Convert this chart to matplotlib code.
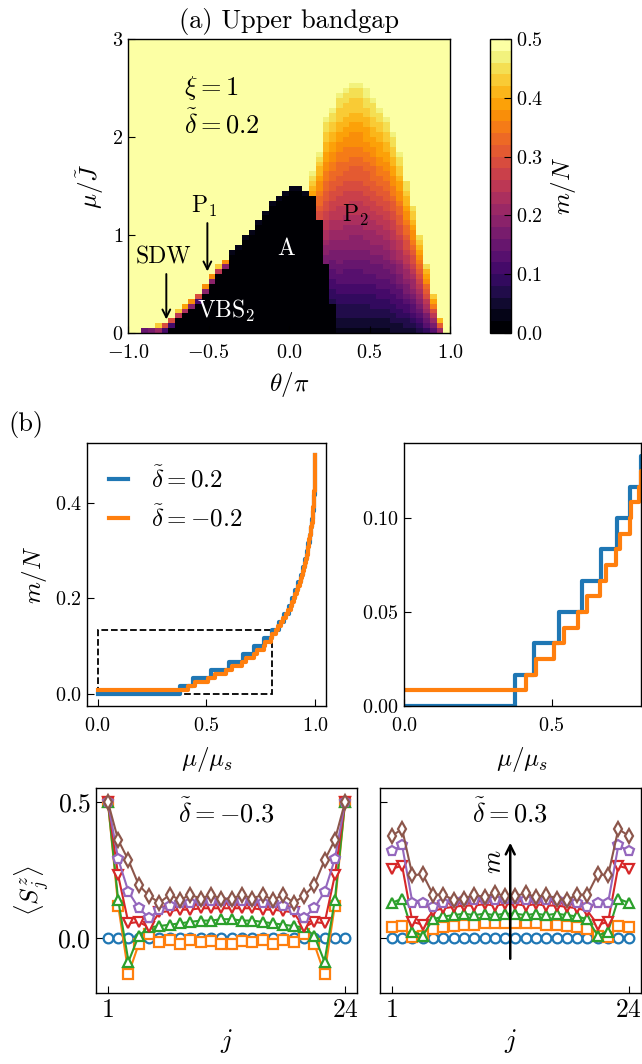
import numpy as np
import matplotlib.pyplot as plt
from matplotlib.patches import Rectangle

plt.rcParams.update({
    'font.family': 'serif',
    'font.serif': ['cmr10'],
    'mathtext.fontset': 'cm',
    'axes.formatter.use_mathtext': True,
    'xtick.direction': 'in',
    'ytick.direction': 'in',
    'xtick.labelsize': 14.5,
    'ytick.labelsize': 14.5,
    'axes.labelsize': 18,
    'axes.linewidth': 1.0,
})

W, H = 642, 1064

# ---------------- (a) phase diagram: one column per theta cell ----------------
theta_edges = np.linspace(-1, 1, 49)
mu_edges = np.linspace(0, 3, 61)

# mu where m/N leaves 0 (top of black region)
mu_low = [0, 0, 0, 0, 0, 0.02, 0.07, 0.13, 0.19, 0.25, 0.32, 0.40, 0.50, 0.58, 0.65,
          0.78, 0.86, 0.94, 1.02, 1.11, 1.20, 1.28, 1.36, 1.42, 1.46, 1.46, 1.42,
          1.39, 1.13, 0.68, 0.30, 0, 0, 0, 0, 0, 0, 0, 0, 0, 0, 0, 0, 0, 0, 0, 0, 0]
# mu where m/N saturates at 0.5
mu_sat = [0, 0, 0.03, 0.05, 0.08, 0.12, 0.17, 0.23, 0.29, 0.35, 0.42, 0.50, 0.60, 0.68, 0.75,
          0.83, 0.91, 0.99, 1.07, 1.16, 1.25, 1.33, 1.41, 1.47, 1.51, 1.51, 1.47,
          1.64, 1.86, 2.20, 2.30, 2.45, 2.51, 2.56, 2.56, 2.48, 2.38, 2.29, 2.20, 2.03,
          1.83, 1.57, 1.32, 1.02, 0.72, 0.42, 0.15, 0]
# m/N just above mu_low and just below mu_sat
m_lo = [0, 0, 0.15, 0.15, 0.1, 0.1, 0.1, 0.1, 0.1, 0.1, 0.1, 0.1, 0.1, 0.1, 0.1,
        0.03, 0.03, 0.03, 0.03, 0.03, 0.03, 0.03, 0.03, 0.03, 0.03, 0.03, 0.03,
        0.38, 0.27, 0.16, 0.07, 0.03, 0.03, 0.03, 0.03, 0.03, 0.03, 0.03, 0.03, 0.035,
        0.04, 0.045, 0.05, 0.06, 0.08, 0.10, 0.15, 0]
m_hi = [0, 0, 0.15, 0.2, 0.45, 0.45, 0.45, 0.45, 0.45, 0.45, 0.45, 0.45, 0.45, 0.45, 0.45,
        0.03, 0.03, 0.03, 0.03, 0.03, 0.03, 0.03, 0.03, 0.03, 0.03, 0.03, 0.03,
        0.47, 0.47, 0.47, 0.47, 0.47, 0.47, 0.47, 0.47, 0.47, 0.47, 0.47, 0.47, 0.47,
        0.47, 0.47, 0.47, 0.47, 0.47, 0.47, 0.45, 0]

# ---------------- (b) magnetization curves, N = 60 ----------------
n_sites = 60
mu_blue = [0.377, 0.440, 0.523, 0.603, 0.667, 0.719, 0.764, 0.802, 0.832, 0.856,
           0.879, 0.895, 0.909, 0.922, 0.935, 0.945, 0.954, 0.962, 0.969, 0.975,
           0.981, 0.986, 0.990, 0.993, 0.996, 0.998, 0.999, 0.9995, 0.9998, 1.0]
m_blue = list(range(1, 31))
mu_orange = [0.0, 0.365, 0.414, 0.448, 0.506, 0.541, 0.590, 0.618, 0.662, 0.682,
             0.718, 0.731, 0.764, 0.768, 0.795, 0.800, 0.818, 0.830, 0.845, 0.854,
             0.868, 0.877, 0.888, 0.894, 0.903, 0.908, 0.916, 0.921, 0.929, 0.934,
             0.940, 0.944, 0.950, 0.953, 0.958, 0.961, 0.966, 0.968, 0.972, 0.974,
             0.978, 0.980, 0.983, 0.985, 0.988, 0.989, 0.991, 0.992, 0.994, 0.995,
             0.996, 0.997, 0.998, 0.9985, 0.999, 0.9993, 0.9996, 0.9998, 0.9999, 1.0]
m_orange = [k / 2 for k in range(1, 61)]

# ---------------- local magnetization profiles, 24 sites ----------------
sites = np.arange(1, 25)
markers = ['o', 's', '^', 'v', 'p', 'd']

sz_neg = [
    [0.0] * 24,
    [0.50, 0.12, -0.13, -0.02, 0.015, -0.015, -0.005, -0.02, -0.005, -0.015, -0.01, -0.02,
     -0.02, -0.01, -0.015, -0.005, -0.02, -0.005, -0.015, 0.015, -0.02, -0.13, 0.12, 0.50],
    [0.50, 0.14, -0.085, 0.01, 0.04, 0.045, 0.05, 0.055, 0.06, 0.065, 0.065, 0.07,
     0.07, 0.065, 0.065, 0.06, 0.055, 0.05, 0.045, 0.04, 0.01, -0.085, 0.14, 0.50],
    [0.50, 0.23, 0.055, 0.06, 0.04, 0.095, 0.10, 0.105, 0.105, 0.11, 0.11, 0.11,
     0.11, 0.11, 0.11, 0.105, 0.105, 0.10, 0.095, 0.04, 0.06, 0.055, 0.23, 0.50],
    [0.50, 0.29, 0.17, 0.11, 0.075, 0.105, 0.12, 0.13, 0.13, 0.135, 0.135, 0.135,
     0.135, 0.135, 0.135, 0.13, 0.13, 0.12, 0.105, 0.075, 0.11, 0.17, 0.29, 0.50],
    [0.50, 0.36, 0.285, 0.195, 0.155, 0.13, 0.16, 0.14, 0.16, 0.145, 0.16, 0.145,
     0.145, 0.16, 0.145, 0.16, 0.14, 0.16, 0.13, 0.155, 0.195, 0.285, 0.36, 0.50],
]
sz_pos = [
    [0.0] * 24,
    [0.04, 0.045, 0.005, 0.01, 0.035, 0.04, 0.045, 0.05, 0.05, 0.055, 0.055, 0.055,
     0.055, 0.055, 0.055, 0.05, 0.05, 0.045, 0.04, 0.035, 0.01, 0.005, 0.045, 0.04],
    [0.13, 0.145, 0.025, 0.01, 0.07, 0.08, 0.085, 0.09, 0.085, 0.09, 0.085, 0.09,
     0.09, 0.085, 0.09, 0.085, 0.09, 0.085, 0.08, 0.07, 0.01, 0.025, 0.145, 0.13],
    [0.255, 0.265, 0.06, 0.05, 0.10, 0.11, 0.115, 0.12, 0.12, 0.125, 0.12, 0.125,
     0.125, 0.12, 0.125, 0.12, 0.12, 0.115, 0.11, 0.10, 0.05, 0.06, 0.265, 0.255],
    [0.32, 0.34, 0.13, 0.13, 0.115, 0.13, 0.135, 0.14, 0.14, 0.145, 0.14, 0.145,
     0.145, 0.14, 0.145, 0.14, 0.14, 0.135, 0.13, 0.115, 0.13, 0.13, 0.34, 0.32],
    [0.375, 0.40, 0.23, 0.235, 0.16, 0.16, 0.14, 0.145, 0.16, 0.15, 0.165, 0.155,
     0.155, 0.165, 0.15, 0.16, 0.145, 0.14, 0.16, 0.16, 0.235, 0.23, 0.40, 0.375],
]


def px_axes(fig, x0, y0, x1, y1):
    # pixel box (top-left origin) -> figure axes
    return fig.add_axes([x0 / W, 1 - y1 / H, (x1 - x0) / W, (y1 - y0) / H])


fig = plt.figure(figsize=(W / 100, H / 100), dpi=100)

# ---------------- panel (a) ----------------
ax_a = px_axes(fig, 128, 39, 450, 333)
mu_c = 0.5 * (mu_edges[1:] + mu_edges[:-1])
Z = np.zeros((len(mu_c), len(mu_low)))
for k in range(len(mu_low)):
    for i, mu in enumerate(mu_c):
        if mu >= mu_sat[k]:
            Z[i, k] = 0.5
        elif mu >= mu_low[k]:
            frac = (mu - mu_low[k]) / (mu_sat[k] - mu_low[k])
            Z[i, k] = m_lo[k] + (m_hi[k] - m_lo[k]) * frac

cmap = plt.get_cmap('inferno', 25)
mesh = ax_a.pcolormesh(theta_edges, mu_edges, Z, cmap=cmap, vmin=0, vmax=0.5)
ax_a.set_xlim(-1, 1)
ax_a.set_ylim(0, 3)
ax_a.set_xticks([-1, -0.5, 0, 0.5, 1])
ax_a.set_yticks([0, 1, 2, 3])
ax_a.set_xlabel(r'$\theta/\pi$', labelpad=6)
ax_a.set_ylabel(r'$\mu/\tilde{J}$')
ax_a.set_title('(a) Upper bandgap', fontsize=19, pad=8)
ax_a.tick_params(length=5)
ax_a.tick_params(axis='x', pad=8)

ax_a.text(-0.65, 2.5, r'$\xi=1$', fontsize=19, va='center')
ax_a.text(-0.65, 2.13, r'$\tilde{\delta}=0.2$', fontsize=19, va='center')
ax_a.text(-0.78, 0.77, 'SDW', fontsize=17, ha='center', va='center')
ax_a.text(-0.53, 1.29, r'P$_1$', fontsize=17, ha='center', va='center')
ax_a.text(-0.02, 0.86, 'A', fontsize=17, ha='center', va='center', color='white')
ax_a.text(-0.39, 0.22, r'VBS$_2$', fontsize=17, ha='center', va='center', color='white')
ax_a.text(0.41, 1.2, r'P$_2$', fontsize=17, ha='center', va='center')
arrow = dict(arrowstyle='->', lw=1.4, color='black', mutation_scale=14)
ax_a.annotate('', xy=(-0.762, 0.11), xytext=(-0.762, 0.63), arrowprops=arrow)
ax_a.annotate('', xy=(-0.507, 0.60), xytext=(-0.507, 1.15), arrowprops=arrow)

cax = px_axes(fig, 490, 39, 511, 333)
cbar = fig.colorbar(mesh, cax=cax, ticks=[0, 0.1, 0.2, 0.3, 0.4, 0.5])
cbar.set_label(r'$m/N$', fontsize=18)
cbar.ax.tick_params(length=5, direction='in')
cbar.outline.set_linewidth(1.0)

# ---------------- panel (b) top ----------------
fig.text(8 / W, 1 - 424 / H, '(b)', fontsize=19, va='center')

ax_l = px_axes(fig, 87, 443, 326, 706)
ax_r = px_axes(fig, 404, 443, 640.5, 706)
for ax in (ax_l, ax_r):
    ax.step([0] + mu_blue, [0] + [m / n_sites for m in m_blue], where='post',
            color='tab:blue', lw=3, label=r'$\tilde{\delta}=0.2$')
    ax.step(mu_orange + [1.0], [m_orange[0] / n_sites] + [m / n_sites for m in m_orange],
            where='post', color='tab:orange', lw=3, label=r'$\tilde{\delta}=-0.2$')
    ax.tick_params(length=5)
    ax.tick_params(axis='x', pad=8)
    ax.set_xlabel(r'$\mu/\mu_s$', labelpad=7)

ax_l.set_xticks([0, 0.5, 1.0])
ax_l.set_yticks([0, 0.2, 0.4])
ax_l.set_ylabel(r'$m/N$')
ax_l.add_patch(Rectangle((0, 0), 0.8, 0.134, fill=False, ls='--', lw=1.3, color='black'))
ax_l.legend(loc='upper left', frameon=False, fontsize=18, handlelength=0.75,
            handletextpad=0.9, borderaxespad=0.5)

ax_r.set_xlim(0, 0.8)
ax_r.set_ylim(0, 0.14)
ax_r.set_xticks([0, 0.5])
ax_r.set_yticks([0, 0.05, 0.10])

# ---------------- panel (b) bottom ----------------
ax_bl = px_axes(fig, 96, 788, 357, 993)
ax_br = px_axes(fig, 380, 788, 640.5, 993)
for ax, data, lab in ((ax_bl, sz_neg, r'$\tilde{\delta}=-0.3$'),
                      (ax_br, sz_pos, r'$\tilde{\delta}=0.3$')):
    for vals, mk in zip(data, markers):
        ax.plot(sites, vals, marker=mk, ms=7, mew=1.6, mfc='white', lw=1.5)
    ax.set_ylim(-0.2, 0.55)
    ax.set_xticks([1, 24])
    ax.set_yticks([0, 0.5])
    ax.tick_params(length=5, labelsize=18.5)
    ax.set_xlabel(r'$j$', fontsize=19)
    ax.text(0.5, 0.88, lab, transform=ax.transAxes, fontsize=19, ha='center', va='center')

ax_bl.set_ylabel(r'$\langle S_j^z\rangle$', fontsize=18)
ax_br.set_yticklabels([])
ax_br.annotate('', xy=(12.5, 0.36), xytext=(12.5, -0.085),
               arrowprops=dict(arrowstyle='->', lw=1.8, color='black', mutation_scale=16))
ax_br.text(10.9, 0.28, r'$m$', fontsize=19, rotation=90, ha='center', va='center')

fig.savefig('out.png', dpi=100)
